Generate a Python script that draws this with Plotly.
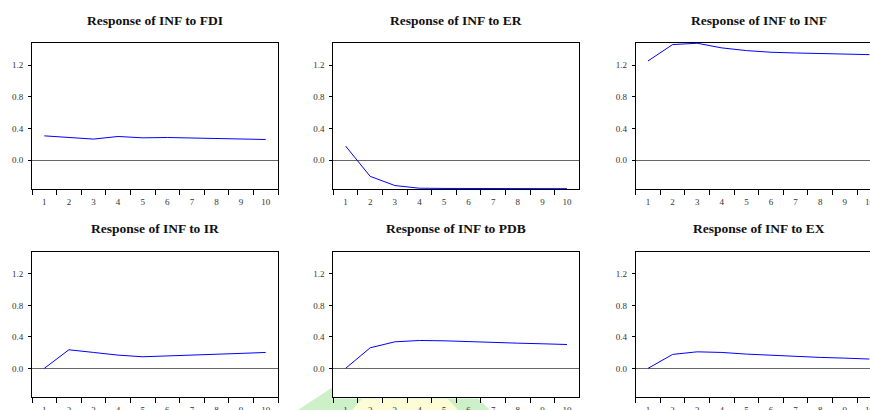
import plotly.graph_objects as go

periods = ["1", "2", "3", "4", "5", "6", "7", "8", "9", "10"]
titles = ["Response of INF to FDI", "Response of INF to ER", "Response of INF to INF",
          "Response of INF to IR", "Response of INF to PDB", "Response of INF to EX"]
fdi = [0.308, 0.292, 0.267, 0.300, 0.283, 0.287, 0.279, 0.279, 0.267, 0.262]
er = [0.179, -0.204, -0.320, -0.354, -0.357, -0.356, -0.356, -0.357, -0.359, -0.360]
inf = [1.255, 1.462, 1.479, 1.420, 1.386, 1.365, 1.356, 1.352, 1.343, 1.335]
ir = [0.000, 0.236, 0.202, 0.168, 0.147, 0.156, 0.164, 0.177, 0.190, 0.202]
pdb = [0.000, 0.261, 0.337, 0.354, 0.350, 0.337, 0.328, 0.320, 0.312, 0.303]
ex = [0.000, 0.177, 0.210, 0.202, 0.181, 0.164, 0.152, 0.139, 0.130, 0.118]
series = [fdi, er, inf, ir, pdb, ex]
y_ticks = [0.0, 0.4, 0.8, 1.2]

W, H = 870, 410
# panel boxes in pixels (left, right, top, bottom)
cols = [(32, 278), (333.3, 579.3), (635.7, 881.7)]
rows = [(43, 189), (251.7, 397)]
title_y = [20, 228]

fig = go.Figure()
font_fam = "Liberation Serif, Times New Roman, serif"

# faint watermark (outside plot boxes)
def p(x, y):
    return f"{x / W:.4f},{1 - y / H:.4f}"

fig.add_shape(type="path", xref="paper", yref="paper", layer="below",
              path=f"M {p(298,410)} L {p(333,387)} L {p(333,398.5)} L {p(478,398.5)} L {p(490,410)} Z",
              fillcolor="rgb(205,240,200)", line=dict(width=0))
fig.add_shape(type="path", xref="paper", yref="paper", layer="below",
              path=f"M {p(352,410)} L {p(362,399)} L {p(448,399)} L {p(458,410)} Z",
              fillcolor="rgb(252,252,215)", line=dict(width=0))

for i, (vals, title) in enumerate(zip(series, titles)):
    r, c = divmod(i, 3)
    left, right = cols[c]
    top, bottom = rows[r]
    n = i + 1
    xa = "x" if n == 1 else f"x{n}"
    ya = "y" if n == 1 else f"y{n}"
    vis_right = min(right, W)
    unit = (right - left) / 10.0
    xmax = -0.5 + (vis_right - left) / unit
    fig.add_trace(go.Scatter(x=periods, y=vals, mode="lines",
                             line=dict(color="#0000ff", width=1),
                             xaxis=xa, yaxis=ya, showlegend=False, hoverinfo="skip"))
    xkey = "xaxis" if n == 1 else f"xaxis{n}"
    ykey = "yaxis" if n == 1 else f"yaxis{n}"
    fig.layout[xkey] = dict(
        domain=[left / W, vis_right / W], anchor=ya, type="category",
        range=[-0.5, xmax], tickson="boundaries", ticks="outside", ticklen=5,
        tickcolor="#000", tickwidth=1, showline=True, linecolor="#000", linewidth=1,
        mirror=True, showgrid=False, zeroline=False, ticklabelstandoff=4,
        automargin=False,
        tickfont=dict(family=font_fam, size=9, color="#333"), fixedrange=True)
    fig.layout[ykey] = dict(
        domain=[1 - bottom / H, 1 - top / H], anchor=xa,
        range=[-0.364, 1.482], tickvals=y_ticks, tickformat=".1f",
        ticks="outside", ticklen=3, tickcolor="#000", tickwidth=1,
        showline=True, linecolor="#000", linewidth=1, ticklabelstandoff=3,
        mirror=(right <= W), showgrid=False, automargin=False,
        zeroline=True, zerolinecolor="#666", zerolinewidth=1,
        tickfont=dict(family=font_fam, size=9, color="#333"), fixedrange=True)
    fig.add_annotation(text=f"<b>{title}</b>", xref="paper", yref="paper",
                       x=(left + right) / 2 / W, y=1 - title_y[r] / H,
                       xanchor="center", yanchor="middle", showarrow=False,
                       font=dict(family=font_fam, size=13.5, color="#111"))

fig.update_layout(width=W, height=H, margin=dict(l=0, r=0, t=0, b=0),
                  paper_bgcolor="white", plot_bgcolor="white")
fig.write_html("out.html")
